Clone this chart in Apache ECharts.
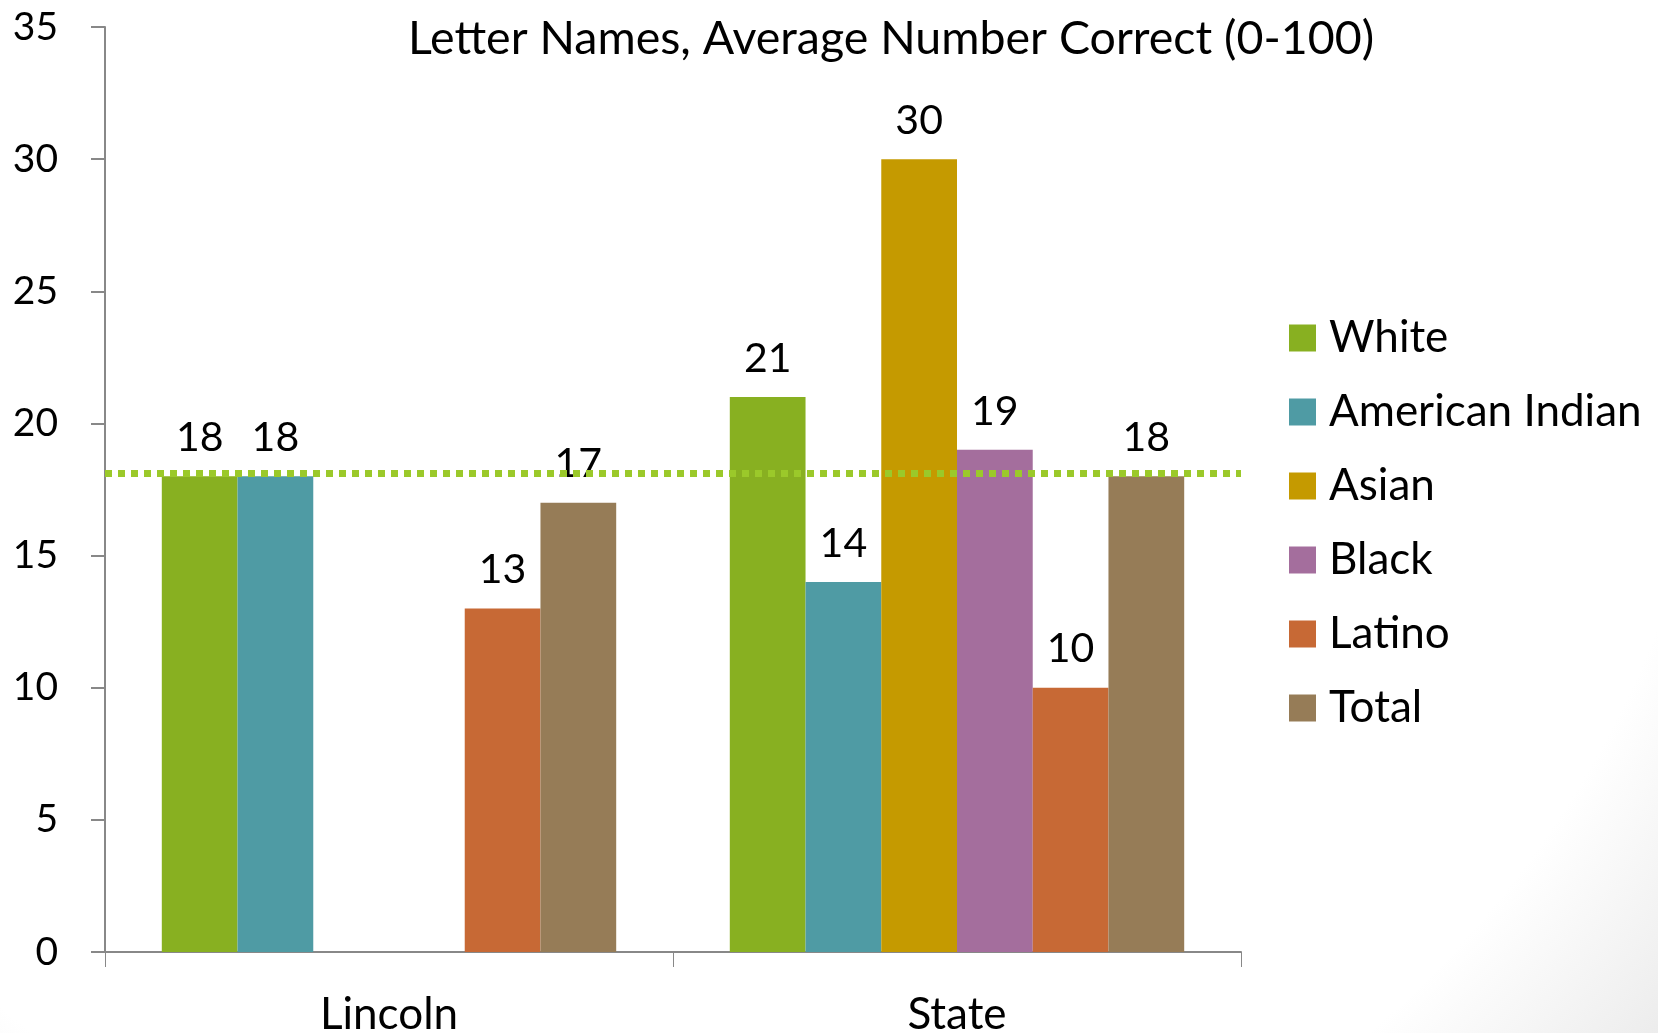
<!DOCTYPE html>
<html>
<head>
<meta charset="utf-8">
<script src="https://cdn.jsdelivr.net/npm/echarts@6/dist/echarts.min.js"></script>
<style>
  html, body { margin: 0; padding: 0; background: #fff; }
  #app { width: 1658px; height: 1033px; }
</style>
</head>
<body>
<div id="app"></div>
<script>
(function() {
  // 类别和数值
  const schools = ["Lincoln", "State"];
  const groups = ["White", "American Indian", "Asian", "Black", "Latino", "Total"];
  const white = [18, 21];
  const americanIndian = [18, 14];
  const asian = [null, 30];
  const black = [null, 19];
  const latino = [13, 10];
  const total = [17, 18];
  const referenceLine = 18.1;

  const colors = ["#88b021", "#4f9ba4", "#c59a00", "#a46e9d", "#c76935", "#967c57"];
  const values = [white, americanIndian, asian, black, latino, total];
  const font = "Lato";

  const series = groups.map((name, i) => {
    const s = {
      name,
      type: "bar",
      data: values[i],
      barGap: "0%",
      barCategoryGap: "20%",
      itemStyle: { color: colors[i] },
      label: {
        show: true,
        position: "top",
        distance: 18,
        color: "#000",
        fontFamily: font,
        fontSize: 41
      }
    };
    if (name === "Total") {
      s.markLine = {
        silent: true,
        symbol: "none",
        label: { show: false },
        lineStyle: { color: "#9bc92a", width: 7, type: [7, 6], opacity: 1 },
        data: [{ yAxis: referenceLine }]
      };
    }
    return s;
  });

  const myChart = echarts.init(document.getElementById("app"));
  myChart.setOption({
    animation: false,
    // 页面右下角的淡灰阴影
    backgroundColor: new echarts.graphic.RadialGradient(700, 250, 1240, [
      { offset: 0, color: "#ffffff" },
      { offset: 0.83, color: "#ffffff" },
      { offset: 1, color: "#ececec" }
    ], true),
    title: {
      text: "Letter Names, Average Number Correct (0-100)",
      left: 886,
      textAlign: "center",
      top: 10,
      textStyle: { fontFamily: font, fontWeight: "normal", fontSize: 46.5, color: "#000" }
    },
    legend: {
      orient: "vertical",
      left: 1284,
      top: 311,
      icon: "rect",
      itemWidth: 27,
      itemHeight: 27,
      itemGap: 30,
      textStyle: { fontFamily: font, fontSize: 44, lineHeight: 44, color: "#000", padding: [0, 0, 0, 8] },
      data: groups
    },
    grid: { left: 105, right: 417, top: 27, bottom: 81, outerBoundsMode: "none" },
    xAxis: {
      type: "category",
      data: schools,
      axisLine: { lineStyle: { color: "#888", width: 2 } },
      axisTick: { show: true, length: 15, lineStyle: { color: "#888", width: 1 } },
      axisLabel: { margin: 41, color: "#000", fontFamily: font, fontSize: 44 }
    },
    yAxis: {
      type: "value",
      min: 0,
      max: 35,
      interval: 5,
      axisLine: { show: true, lineStyle: { color: "#888", width: 2 } },
      axisTick: { show: true, length: 14, lineStyle: { color: "#888", width: 2 } },
      axisLabel: { margin: 47, color: "#000", fontFamily: font, fontSize: 39 },
      splitLine: { show: false }
    },
    series
  });
})();
</script>
</body>
</html>
